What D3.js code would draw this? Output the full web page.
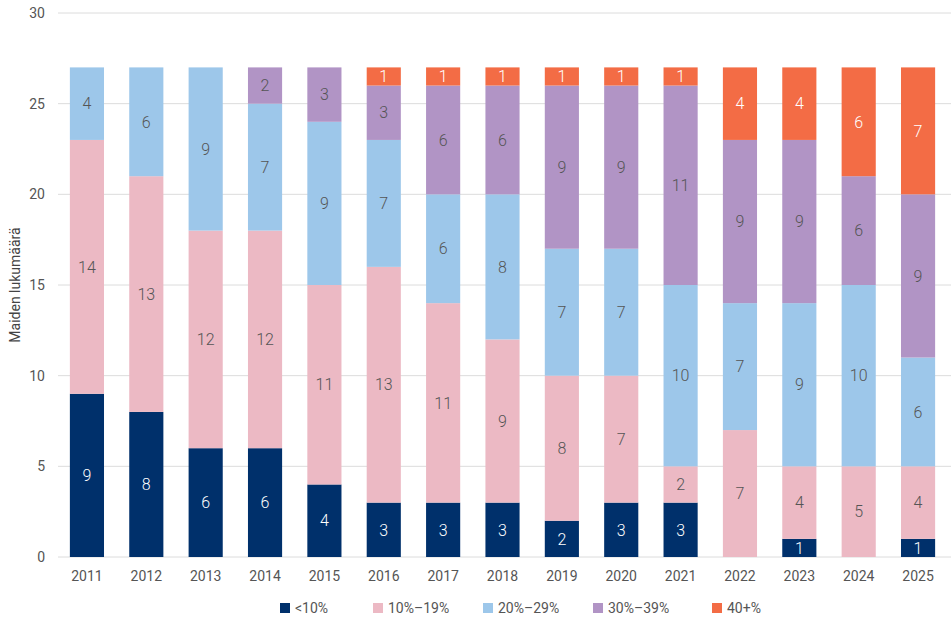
<!DOCTYPE html>
<html>
<head>
<meta charset="utf-8">
<style>
  body { margin: 0; background: #fff; font-family: Roboto, "Noto Sans", sans-serif; }
</style>
<script src="https://cdnjs.cloudflare.com/ajax/libs/d3/7.8.5/d3.min.js"></script>
</head>
<body>
<div id="chart"></div>
<script>
const years = ["2011","2012","2013","2014","2015","2016","2017","2018","2019","2020","2021","2022","2023","2024","2025"];
const categories = ["<10%", "10%–19%", "20%–29%", "30%–39%", "40+%"];
const colors = ["#00306b", "#ecb9c4", "#9dc7ea", "#b194c5", "#f36c45"];
const labelColors = ["#fff", "#555", "#555", "#555", "#fff"];

const under10 = [9, 8, 6, 6, 4, 3, 3, 3, 2, 3, 3, 0, 1, 0, 1];
const from10to19 = [14, 13, 12, 12, 11, 13, 11, 9, 8, 7, 2, 7, 4, 5, 4];
const from20to29 = [4, 6, 9, 7, 9, 7, 6, 8, 7, 7, 10, 7, 9, 10, 6];
const from30to39 = [0, 0, 0, 2, 3, 3, 6, 6, 9, 9, 11, 9, 9, 6, 9];
const over40 = [0, 0, 0, 0, 0, 1, 1, 1, 1, 1, 1, 4, 4, 6, 7];
const yTicks = [0, 5, 10, 15, 20, 25, 30];

const series = [under10, from10to19, from20to29, from30to39, over40];

const W = 951, H = 617;
const margin = {left: 58, right: 4, top: 13, bottom: 60};

const svg = d3.select("#chart").append("svg")
  .attr("width", W).attr("height", H);

const table = years.map((y, i) => {
  const row = {year: y};
  categories.forEach((c, k) => row[c] = series[k][i]);
  return row;
});
const stacked = d3.stack().keys(categories)(table);

const x = d3.scaleBand().domain(years)
  .range([margin.left, W - margin.right])
  .paddingInner(0.425).paddingOuter(0.2);
const y = d3.scaleLinear().domain([0, 30])
  .range([H - margin.bottom, margin.top]);

// gridlines
svg.append("g").selectAll("line").data(yTicks).join("line")
  .attr("x1", margin.left).attr("x2", W)
  .attr("y1", d => y(d)).attr("y2", d => y(d))
  .attr("stroke", "#dcdcdc").attr("stroke-width", 1);

const yAxis = svg.append("g")
  .attr("transform", `translate(${margin.left},0)`)
  .call(d3.axisLeft(y).tickValues(yTicks).tickSize(0).tickPadding(13));
yAxis.select(".domain").remove();
yAxis.selectAll("text").attr("fill", "#555").style("font-size", "14px")
  .style("font-family", "Roboto, sans-serif");

const xAxis = svg.append("g")
  .attr("transform", `translate(0,${y(0)})`)
  .call(d3.axisBottom(x).tickSize(0).tickPadding(14));
xAxis.select(".domain").remove();
xAxis.selectAll("text").attr("fill", "#555").style("font-size", "14px")
  .style("font-family", "Roboto, sans-serif");

svg.append("text")
  .attr("transform", `translate(20,${y(15)}) rotate(-90)`)
  .attr("text-anchor", "middle")
  .attr("fill", "#444").style("font-size", "14px")
  .text("Maiden lukumäärä");

// bars
const groups = svg.append("g").selectAll("g").data(stacked).join("g")
  .attr("fill", (d, i) => colors[i]);

groups.selectAll("rect").data(d => d).join("rect")
  .attr("x", d => x(d.data.year))
  .attr("y", d => y(d[1]))
  .attr("width", x.bandwidth())
  .attr("height", d => y(d[0]) - y(d[1]));

groups.each(function(s, k) {
  d3.select(this).selectAll("text").data(s.filter(d => d[1] - d[0] > 0)).join("text")
    .attr("x", d => x(d.data.year) + x.bandwidth() / 2)
    .attr("y", d => y((d[0] + d[1]) / 2))
    .attr("dy", "0.36em")
    .attr("text-anchor", "middle")
    .attr("fill", labelColors[k])
    .style("font-size", "16px")
    .style("font-weight", 300)
    .text(d => d[1] - d[0]);
});

// legend
const legendX = [280, 373, 483, 593, 712];
const legend = svg.append("g").selectAll("g").data(categories).join("g")
  .attr("transform", (d, i) => `translate(${legendX[i]},608)`);
legend.append("rect").attr("x", 0).attr("y", -5).attr("width", 10).attr("height", 10)
  .attr("fill", (d, i) => colors[i]);
legend.append("text").attr("x", 15).attr("y", 0).attr("dy", "0.36em")
  .attr("fill", "#555").style("font-size", "14px").text(d => d);
</script>
</body>
</html>
